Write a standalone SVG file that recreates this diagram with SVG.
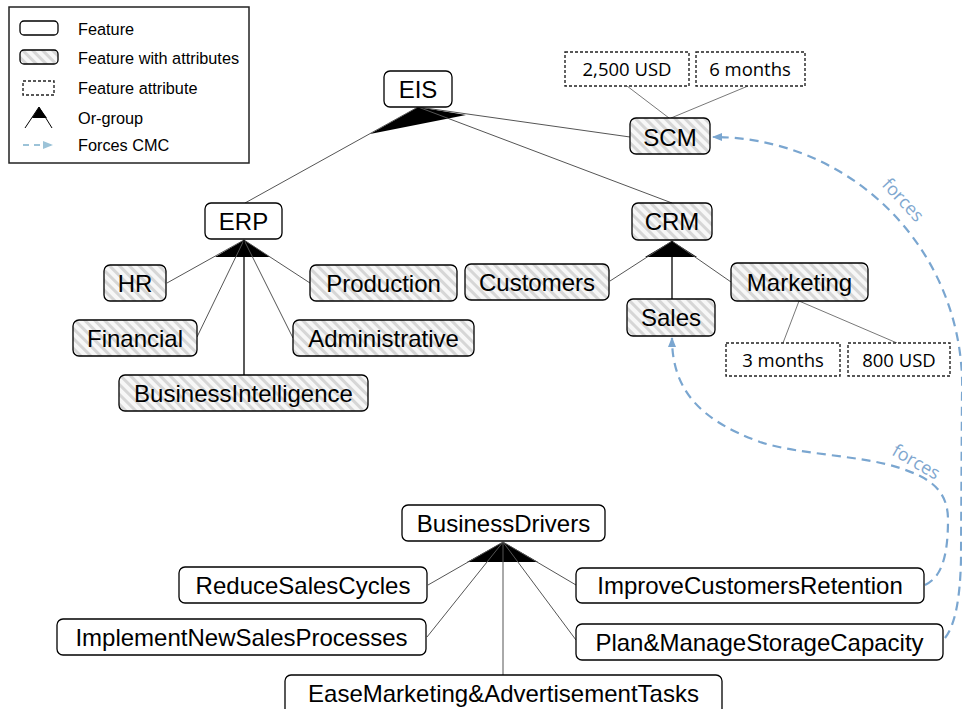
<svg xmlns="http://www.w3.org/2000/svg" width="962" height="709" viewBox="0 0 962 709">
<defs>
<pattern id="hatch" patternUnits="userSpaceOnUse" width="7" height="7" patternTransform="rotate(-45)">
<rect width="7" height="7" fill="#f7f7f7"/>
<rect x="0" y="0" width="3" height="7" fill="#d6d6d6"/>
</pattern>
<marker id="arr" viewBox="0 0 10 10" refX="9" refY="5" markerWidth="10" markerHeight="10" markerUnits="userSpaceOnUse" orient="auto">
<path d="M0,1 L10,5 L0,9 Z" fill="#7aa6d0"/>
</marker>
<marker id="arrl" viewBox="0 0 10 10" refX="9" refY="5" markerWidth="10" markerHeight="10" markerUnits="userSpaceOnUse" orient="auto">
<path d="M0,1 L10,5 L0,9 Z" fill="#9cc3d8"/>
</marker>
<style>
.f{fill:#fff;stroke:#000;stroke-width:1.3}
.h{fill:url(#hatch);stroke:#000;stroke-width:1.3}
.a{fill:#fff;stroke:#222;stroke-width:1.4;stroke-dasharray:3 2}
.t{font-family:"Liberation Sans",Arial,sans-serif;font-size:24px;fill:#000;text-anchor:middle}
.at{font-family:"Open Sans","Noto Sans",sans-serif;font-size:18.5px;fill:#000;text-anchor:middle}
.lg{font-family:"Liberation Sans",Arial,sans-serif;font-size:16.3px;fill:#000}
.ln{stroke:#555;stroke-width:1;fill:none}
.lb{stroke:#000;stroke-width:1.3;fill:none}
.frc{stroke:#7aa6d0;stroke-width:2.2;fill:none;stroke-dasharray:9 6}
.fl{font-family:"Open Sans","Noto Sans",sans-serif;font-size:18px;fill:#7fa7cf;text-anchor:middle}
.tri{fill:#000}
</style>
</defs>
<rect width="962" height="709" fill="#fff"/>

<g id="legend">
<rect x="9" y="7" width="240" height="156" fill="#fff" stroke="#222" stroke-width="1.5"/>
<rect x="20" y="21" width="38" height="14" rx="4" class="f"/>
<text x="78" y="34.5" class="lg">Feature</text>
<rect x="20" y="50" width="38" height="14" rx="4" class="h"/>
<text x="78" y="64" class="lg">Feature with attributes</text>
<rect x="23" y="81" width="31" height="14" class="a" stroke-width="1"/>
<text x="78" y="94" class="lg">Feature attribute</text>
<path d="M39,107 L32,118 L47,118 Z" class="tri"/>
<path d="M39,107 L25,128 M39,107 L52,128" stroke="#000" stroke-width="1"/>
<text x="78" y="124" class="lg">Or-group</text>
<line x1="23" y1="145" x2="52" y2="145" stroke="#9cc3d8" stroke-width="1.8" stroke-dasharray="6 5" marker-end="url(#arrl)"/>
<text x="78" y="151" class="lg">Forces CMC</text>
</g>

<g id="connectors">
<path d="M418,107 L370,134 L466,115 Z" class="tri"/>
<line x1="418" y1="107" x2="245" y2="203" class="ln"/>
<line x1="418" y1="107" x2="630" y2="137" class="ln"/>
<line x1="418" y1="107" x2="672" y2="203" class="ln"/>
<line x1="627" y1="86" x2="669" y2="118" stroke="#555" stroke-width="0.8"/>
<line x1="748" y1="86" x2="671" y2="118" stroke="#555" stroke-width="0.8"/>
<path d="M672,241 L645,257 L697,257 Z" class="tri"/>
<line x1="672" y1="241" x2="610" y2="281" class="ln"/>
<line x1="672" y1="241" x2="731" y2="282" class="ln"/>
<line x1="672" y1="241" x2="672" y2="299" class="lb"/>
<line x1="799" y1="301" x2="783" y2="343" stroke="#555" stroke-width="0.8"/>
<line x1="799" y1="301" x2="897" y2="343" stroke="#555" stroke-width="0.8"/>
<path d="M244,240 L215,257 L270,257 Z" class="tri"/>
<line x1="244" y1="240" x2="167" y2="283" class="ln"/>
<line x1="244" y1="240" x2="310" y2="283" class="ln"/>
<line x1="244" y1="240" x2="197" y2="337" class="ln"/>
<line x1="244" y1="240" x2="293" y2="338" class="ln"/>
<line x1="244" y1="240" x2="244" y2="375" class="lb"/>
<path d="M503,542 L467,562 L538,562 Z" class="tri"/>
<line x1="503" y1="542" x2="428" y2="585" class="ln"/>
<line x1="503" y1="542" x2="427" y2="637" class="ln"/>
<line x1="503" y1="542" x2="503" y2="675" class="ln"/>
<line x1="503" y1="542" x2="576" y2="585" class="ln"/>
<line x1="503" y1="542" x2="576" y2="640" class="ln"/>
<path d="M945,638 C955,625 960,600 961,560 L962,395 A249 249 0 0 0 713,137" class="frc" marker-end="url(#arr)"/>
<path d="M925,585 C940,578 948,560 948,520 C948,490 930,478 900,468 C860,455 800,455 760,442 C700,420 672,390 672,338" class="frc" marker-end="url(#arr)"/>
<text x="903" y="206" class="fl" transform="rotate(47 903 200)">forces</text>
<text x="916" y="468" class="fl" transform="rotate(30 916 462)">forces</text>
</g>

<g id="EIS"><rect x="384" y="71" width="68" height="36" rx="6" class="f"/><text x="418" y="97.5" class="t">EIS</text></g>
<g id="SCM"><rect x="630" y="118" width="80" height="36" rx="6" class="h"/><text x="670" y="145.5" class="t">SCM</text></g>
<g id="attr2500"><rect x="565" y="52" width="124" height="34" class="a"/><text x="627" y="76" class="at">2,500 USD</text></g>
<g id="attr6m"><rect x="696" y="52" width="109" height="34" class="a"/><text x="750" y="76" class="at">6 months</text></g>
<g id="ERP"><rect x="205" y="203" width="77" height="36" rx="6" class="f"/><text x="243.5" y="229.5" class="t">ERP</text></g>
<g id="CRM"><rect x="632" y="203" width="80" height="37" rx="6" class="h"/><text x="672" y="230" class="t">CRM</text></g>
<g id="HR"><rect x="104" y="265" width="62" height="36" rx="6" class="h"/><text x="135" y="291.5" class="t">HR</text></g>
<g id="Production"><rect x="310" y="265" width="147" height="36" rx="6" class="h"/><text x="383.5" y="291.5" class="t">Production</text></g>
<g id="Financial"><rect x="73" y="320" width="124" height="36" rx="6" class="h"/><text x="135" y="346.5" class="t">Financial</text></g>
<g id="Administrative"><rect x="293" y="320" width="181" height="36" rx="6" class="h"/><text x="383.5" y="346.5" class="t">Administrative</text></g>
<g id="BusinessIntelligence"><rect x="119" y="375" width="249" height="36" rx="6" class="h"/><text x="243.5" y="401.5" class="t">BusinessIntelligence</text></g>
<g id="Customers"><rect x="465" y="264" width="144" height="36" rx="6" class="h"/><text x="537" y="290.5" class="t">Customers</text></g>
<g id="Sales"><rect x="627" y="299" width="88" height="37" rx="6" class="h"/><text x="671" y="326" class="t">Sales</text></g>
<g id="Marketing"><rect x="731" y="263" width="137" height="38" rx="6" class="h"/><text x="799.5" y="290.5" class="t">Marketing</text></g>
<g id="attr3m"><rect x="726" y="343" width="114" height="33" class="a"/><text x="783" y="366.5" class="at">3 months</text></g>
<g id="attr800"><rect x="848" y="343" width="102" height="33" class="a"/><text x="899" y="366.5" class="at">800 USD</text></g>
<g id="BusinessDrivers"><rect x="402" y="505" width="203" height="36" rx="6" class="f"/><text x="503.5" y="531.5" class="t">BusinessDrivers</text></g>
<g id="ReduceSalesCycles"><rect x="179" y="567" width="248" height="36" rx="6" class="f"/><text x="303" y="593.5" class="t">ReduceSalesCycles</text></g>
<g id="ImplementNewSalesProcesses"><rect x="57" y="619" width="369" height="36" rx="6" class="f"/><text x="241.5" y="645.5" class="t">ImplementNewSalesProcesses</text></g>
<g id="EaseMarketing"><rect x="285" y="675" width="437" height="40" rx="6" class="f"/><text x="503.5" y="701.5" class="t">EaseMarketing&amp;AdvertisementTasks</text></g>
<g id="ImproveCustomersRetention"><rect x="576" y="568" width="348" height="35" rx="6" class="f"/><text x="750" y="594" class="t">ImproveCustomersRetention</text></g>
<g id="PlanManage"><rect x="576" y="624" width="367" height="36" rx="6" class="f"/><text x="759.5" y="650.5" class="t">Plan&amp;ManageStorageCapacity</text></g>
</svg>
